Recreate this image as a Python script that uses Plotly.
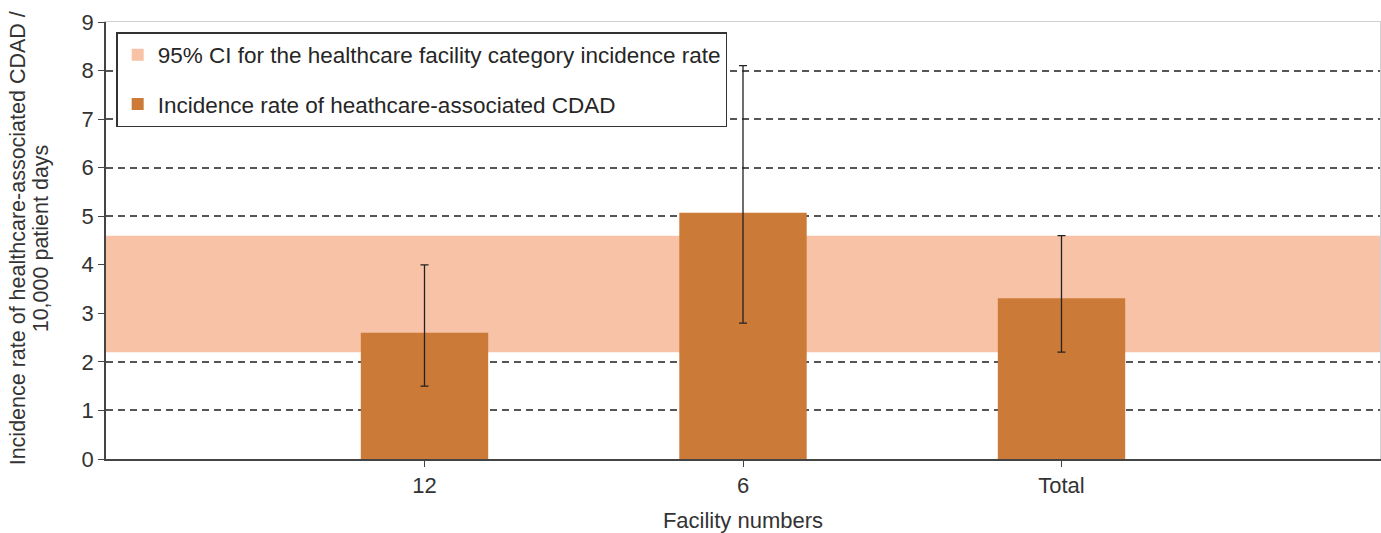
import plotly.graph_objects as go

# ---- data ----
categories = ["12", "6", "Total"]
incidence_rates = [2.6, 5.07, 3.31]
ci_lower = [1.5, 2.8, 2.2]
ci_upper = [4.0, 8.1, 4.6]
category_ci_lower = 2.2
category_ci_upper = 4.6
y_tick_values = [0, 1, 2, 3, 4, 5, 6, 7, 8, 9]
y_title_lines = ["Incidence rate of healthcare-associated CDAD /", "10,000 patient days"]

x_positions = list(range(1, len(categories) + 1))
x_span = [0, len(categories) + 1]
y_span = [y_tick_values[0], y_tick_values[-1]]

FONT = "Liberation Sans, Arial, sans-serif"
TXT = "#333333"
BAR = "#CC7A38"
BAND = "#F8C2A6"

err_plus = [h - v for h, v in zip(ci_upper, incidence_rates)]
err_minus = [v - l for v, l in zip(incidence_rates, ci_lower)]

fig = go.Figure()

fig.add_trace(go.Bar(
    x=[(x_span[0] + x_span[1]) / 2],
    y=[category_ci_upper - category_ci_lower],
    base=[category_ci_lower],
    width=[x_span[1] - x_span[0]],
    marker=dict(color=BAND, line=dict(width=0)),
    name="95% CI for the healthcare facility category incidence rate",
    legendgroup="a",
    hoverinfo="skip",
))

fig.add_trace(go.Bar(
    x=x_positions,
    y=incidence_rates,
    width=0.4,
    marker=dict(color=BAR, line=dict(width=0)),
    name="Incidence rate of heathcare-associated CDAD",
    legendgroup="b",
    error_y=dict(type="data", symmetric=False, array=err_plus, arrayminus=err_minus,
                 color="#222222", thickness=1.3, width=4),
))

# helper (empty) traces so the overlay axes get drawn
for xa, ya in (("x", "y2"), ("x2", "y"), ("x", "y3")):
    fig.add_trace(go.Scatter(x=[None], y=[None], xaxis=xa, yaxis=ya,
                             showlegend=False, hoverinfo="skip", mode="markers"))

# y-axis title as two rotated text lines (tighter line spacing than Plotly's default)
PLOT_L, PLOT_W = 106, 1274
for i, (line, px) in enumerate(zip(y_title_lines, (18, 41))):
    fig.add_annotation(
        text=line, textangle=-90, xref="paper", yref="paper",
        x=(px - PLOT_L) / PLOT_W, y=0.505, xanchor="center", yanchor="middle",
        showarrow=False, font=dict(size=21.5, color=TXT),
    )

fig.update_layout(
    width=1381, height=533,
    margin=dict(l=PLOT_L, r=1, t=22, b=74),
    paper_bgcolor="white", plot_bgcolor="white",
    barmode="overlay",
    font=dict(family=FONT, size=22, color=TXT),
    showlegend=True,
    legend=dict(
        x=0.008, y=0.977, xanchor="left", yanchor="top",
        bgcolor="white", bordercolor="#333333", borderwidth=1.5,
        font=dict(size=22.5, color="#262626"),
        traceorder="grouped", tracegroupgap=17, itemwidth=30,
    ),
    xaxis=dict(
        range=x_span, tickmode="array", tickvals=x_positions, ticktext=categories,
        showline=True, linecolor="#444444", linewidth=1.5,
        ticks="outside", ticklen=6, tickcolor="#444444",
        showgrid=False, zeroline=False,
        tickfont=dict(size=22, color=TXT),
        title=dict(text="Facility numbers", font=dict(size=22, color=TXT), standoff=15),
    ),
    xaxis2=dict(
        overlaying="x", side="top", range=x_span, showline=True, linecolor="#d0d0d0",
        linewidth=1, showticklabels=False, ticks="", showgrid=False, zeroline=False,
        anchor="y",
    ),
    yaxis=dict(
        range=y_span, tickmode="array",
        tickvals=y_tick_values[1:-1], showticklabels=False, ticks="",
        showgrid=True, gridcolor="#555555", gridwidth=1.5, griddash="7px,5px",
        zeroline=False, showline=False,
    ),
    yaxis2=dict(
        overlaying="y", side="left", anchor="x",
        range=y_span, tickmode="array",
        tickvals=y_tick_values, showgrid=False, zeroline=False,
        showline=True, linecolor="#444444", linewidth=1.5,
        ticks="outside", ticklen=6, tickcolor="#444444",
        tickfont=dict(size=22, color=TXT),
    ),
    yaxis3=dict(
        overlaying="y", side="right", anchor="x",
        range=y_span, showline=True, linecolor="#d0d0d0",
        linewidth=1, showticklabels=False, ticks="", showgrid=False, zeroline=False,
    ),
)

fig.write_html("out.html", config={"displayModeBar": False},
               post_script="document.body.style.margin='0';")
